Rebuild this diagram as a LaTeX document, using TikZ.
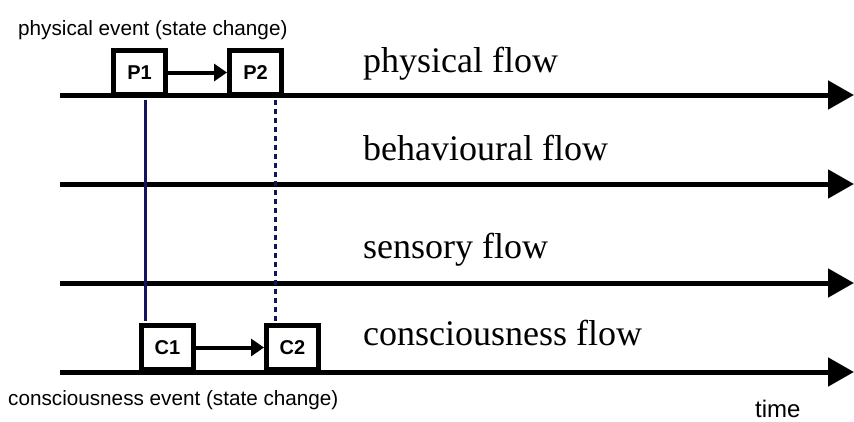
\documentclass[tikz,border=0pt]{standalone}
\usepackage{fontspec}
\setmainfont{Liberation Serif}
\setsansfont{Liberation Sans}
\usetikzlibrary{arrows.meta}
\definecolor{navy}{RGB}{20,20,90}
\begin{document}
\begin{tikzpicture}[x=1pt,y=-1pt,
  timeline/.style={line width=5pt,-{Triangle[length=26pt,width=28pt]}},
  evbox/.style={draw,line width=5pt,fill=white,minimum width=52pt,minimum height=44pt,inner sep=0pt,font=\sffamily\bfseries\fontsize{20}{20}\selectfont},
  evarrow/.style={line width=4pt,-{Triangle[length=13pt,width=17pt]}},
  flowlabel/.style={anchor=base west,inner sep=0pt,font=\fontsize{36}{36}\selectfont},
  smalllabel/.style={anchor=base west,inner sep=0pt,font=\sffamily\fontsize{20.7}{20.7}\selectfont},
  link/.style={draw=navy,line width=3pt}]
\useasboundingbox (0,0) rectangle (854,421);
% timelines
\coordinate (l1s) at (60,95);  \coordinate (l1e) at (854,95);
\coordinate (l2s) at (60,184); \coordinate (l2e) at (854,184);
\coordinate (l3s) at (60,283); \coordinate (l3e) at (854,283);
\coordinate (l4s) at (60,372); \coordinate (l4e) at (854,372);
\draw[timeline] (l1s) -- (l1e);
\draw[timeline] (l2s) -- (l2e);
\draw[timeline] (l3s) -- (l3e);
\draw[timeline] (l4s) -- (l4e);
% event boxes
\node[evbox] (P1) at (139.5,72.5) {P1};
\node[evbox] (P2) at (255.5,72.5) {P2};
\node[evbox] (C1) at (167.5,347.5) {C1};
\node[evbox] (C2) at (292.5,347.5) {C2};
\draw[evarrow] (P1) -- (P2);
\draw[evarrow] (C1) -- (C2);
% links
\draw[link] ([xshift=5.5pt,yshift=-2.5pt]P1.south) -- ([xshift=-22.5pt,yshift=2.5pt]C1.north);
\draw[link,dash pattern=on 5pt off 4pt] ([xshift=19.5pt,yshift=-2.5pt]P2.south) -- ([xshift=-17.5pt,yshift=2.5pt]C2.north);
% labels
\node[flowlabel] (fl1) at (363,72) {physical flow};
\node[flowlabel] (fl2) at (363,160) {behavioural flow};
\node[flowlabel] (fl3) at (363,258) {sensory flow};
\node[flowlabel] (fl4) at (363,345) {consciousness flow};
\node[smalllabel] (pe) at (18,35) {physical event (state change)};
\node[smalllabel] (ce) at (8,405) {consciousness event (state change)};
\node[smalllabel,font=\sffamily\fontsize{24}{24}\selectfont] (tm) at (755,417) {time};
\end{tikzpicture}
\end{document}
